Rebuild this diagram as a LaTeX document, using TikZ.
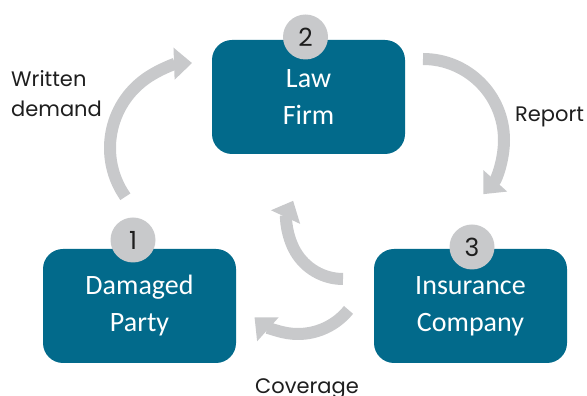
\documentclass[tikz,border=0pt]{standalone}
\usepackage{fontspec}
\usetikzlibrary{arrows.meta}
\newfontfamily\boxfont{Carlito}
\newfontfamily\notefont{Poppins}
\definecolor{teal}{RGB}{2,106,139}
\definecolor{pale}{RGB}{200,201,203}
\definecolor{ink}{RGB}{30,30,30}
\begin{document}
\begin{tikzpicture}[x=1pt, y=1pt,
    stage/.style={fill=teal, text=white, rounded corners=20pt, minimum width=193pt, minimum height=114pt, align=center, font=\boxfont\fontsize{28}{37}\selectfont},
    num/.style={circle, fill=pale, text=ink, minimum size=45pt, inner sep=0pt, font=\notefont\fontsize{25}{25}\selectfont},
    note/.style={text=ink, inner sep=0pt, align=left, font=\notefont\fontsize{21}{30}\selectfont},
    flow/.style={draw=pale, line width=12pt, -{Triangle[length=18pt, width=31pt]}}]
    \useasboundingbox (0,0) rectangle (587,396);
    %nodes
    \node[stage] at (308.5,299) (lawfirm) {Law\\Firm};
    \node[stage] at (139.5,90) (damaged) {Damaged\\Party};
    \node[stage] at (470.5,90) (insurance) {Insurance\\Company};
    \node[num] at (133,156) (num1) {1};
    \node[num] at (305.5,359) (num2) {2};
    \node[num] at (472,149) (num3) {3};
    \node[note, anchor=base west] at (11,279) (written) {Written\\demand};
    \node[note, anchor=base west] at (515,274) (report) {Report};
    \node[note, anchor=base west] at (255,2.5) (coverage) {Coverage};
    %arrows
    \coordinate (demand-a) at ([shift={(215:85)}]195,248);
    \coordinate (report-a) at ([shift={(90:81)}]423,256);
    \coordinate (cover-a) at ([shift={(321:65)}]298,127);
    \coordinate (back-a) at ([shift={(270:55)}]343,172);
    \draw[flow] (demand-a) arc[start angle=215, end angle=92, radius=85];
    \draw[flow] (report-a) arc[start angle=90, end angle=-42, radius=81];
    \draw[flow] (cover-a) arc[start angle=321, end angle=228, radius=65];
    \draw[flow] (back-a) arc[start angle=270, end angle=155, radius=55];
\end{tikzpicture}
\end{document}
